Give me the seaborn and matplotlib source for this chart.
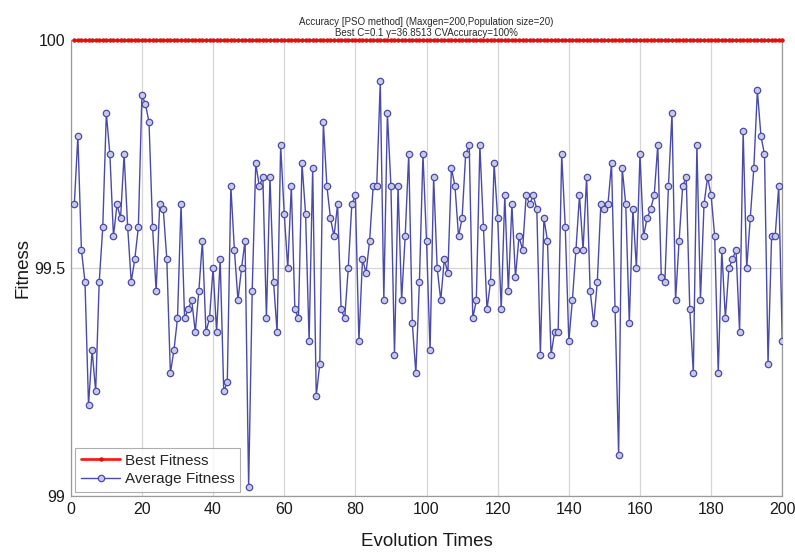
import numpy as np
import pandas as pd
import matplotlib
matplotlib.use("Agg")
import matplotlib.pyplot as plt
import seaborn as sns

# Evolution step (generation index)
generations = list(range(1, 201))

# Best fitness per generation (CV accuracy of the best particle)
best_fitness = [100.0] * 200

# Average fitness of the swarm per generation
average_fitness = [
    # 1-20
    99.64, 99.79, 99.54, 99.47, 99.20, 99.32, 99.23, 99.47, 99.59, 99.84,
    99.75, 99.57, 99.64, 99.61, 99.75, 99.59, 99.47, 99.52, 99.59, 99.88,
    # 21-40
    99.86, 99.82, 99.59, 99.45, 99.64, 99.63, 99.52, 99.27, 99.32, 99.39,
    99.64, 99.39, 99.41, 99.43, 99.36, 99.45, 99.56, 99.36, 99.39, 99.50,
    # 41-60
    99.36, 99.52, 99.23, 99.25, 99.68, 99.54, 99.43, 99.50, 99.56, 99.02,
    99.45, 99.73, 99.68, 99.70, 99.39, 99.70, 99.47, 99.36, 99.77, 99.62,
    # 61-80
    99.50, 99.68, 99.41, 99.39, 99.73, 99.62, 99.34, 99.72, 99.22, 99.29,
    99.82, 99.68, 99.61, 99.57, 99.64, 99.41, 99.39, 99.50, 99.64, 99.66,
    # 81-100
    99.34, 99.52, 99.49, 99.56, 99.68, 99.68, 99.91, 99.43, 99.84, 99.68,
    99.31, 99.68, 99.43, 99.57, 99.75, 99.38, 99.27, 99.47, 99.75, 99.56,
    # 101-120
    99.32, 99.70, 99.50, 99.43, 99.52, 99.49, 99.72, 99.68, 99.57, 99.61,
    99.75, 99.77, 99.39, 99.43, 99.77, 99.59, 99.41, 99.47, 99.73, 99.61,
    # 121-140
    99.41, 99.66, 99.45, 99.64, 99.48, 99.57, 99.54, 99.66, 99.64, 99.66,
    99.63, 99.31, 99.61, 99.56, 99.31, 99.36, 99.36, 99.75, 99.59, 99.34,
    # 141-160
    99.43, 99.54, 99.66, 99.54, 99.70, 99.45, 99.38, 99.47, 99.64, 99.63,
    99.64, 99.73, 99.41, 99.09, 99.72, 99.64, 99.38, 99.63, 99.50, 99.75,
    # 161-180
    99.57, 99.61, 99.63, 99.66, 99.77, 99.48, 99.47, 99.68, 99.84, 99.43,
    99.56, 99.68, 99.70, 99.41, 99.27, 99.77, 99.43, 99.64, 99.70, 99.66,
    # 181-200
    99.57, 99.27, 99.54, 99.39, 99.50, 99.52, 99.54, 99.36, 99.80, 99.50,
    99.61, 99.72, 99.89, 99.79, 99.75, 99.29, 99.57, 99.57, 99.68, 99.34,
]

x_ticks = [0, 20, 40, 60, 80, 100, 120, 140, 160, 180, 200]
y_ticks = [99, 99.5, 100]
y_tick_labels = ["99", "99.5", "100"]

title_text = ("Accuracy [PSO method] (Maxgen=200,Population size=20)\n"
              "Best C=0.1 γ=36.8513 CVAccuracy=100%")

df = pd.DataFrame({
    "gen": generations,
    "Best Fitness": best_fitness,
    "Average Fitness": average_fitness,
})

sns.set_theme(style="white")
plt.rcParams["font.family"] = ["Liberation Sans", "DejaVu Sans"]

fig = plt.figure(figsize=(7.95, 5.52), dpi=100)
ax = fig.add_axes([0.089, 0.101, 0.895, 0.826])

sns.lineplot(data=df, x="gen", y="Best Fitness", ax=ax, color="#ff1a1a",
             linewidth=2.0, marker="o", markersize=3.2, markeredgewidth=0,
             markerfacecolor="#e01010",
             label="Best Fitness", zorder=4, clip_on=False)
sns.lineplot(data=df, x="gen", y="Average Fitness", ax=ax, color="#4a4aaa",
             linewidth=1.0, marker="o", markersize=4.6,
             markerfacecolor="#c9c9e3", markeredgecolor="#4a4aaa",
             markeredgewidth=0.9, label="Average Fitness", zorder=3)

ax.set_xlim(0, 200)
ax.set_ylim(99, 100)
ax.set_xticks(x_ticks)
ax.set_yticks(y_ticks)
ax.set_yticklabels(y_tick_labels)
ax.tick_params(axis="both", labelsize=11.5, colors="#1a1a1a", length=3,
               direction="in", pad=4)
ax.grid(True, color="#d6d6d6", linewidth=0.9)
ax.set_axisbelow(True)
for s in ax.spines.values():
    s.set_color("#9a9a9a")
    s.set_linewidth(0.9)

ax.set_xlabel("Evolution Times", fontsize=13.5, color="#1a1a1a", labelpad=12)
ax.set_ylabel("Fitness", fontsize=13.5, color="#1a1a1a", labelpad=2)
ax.set_title(title_text, fontsize=7, color="#2a2a2a", pad=3, linespacing=1.15)

leg = ax.legend(loc="lower left", fontsize=11, frameon=True,
                fancybox=False, borderpad=0.35, handlelength=2.6,
                handletextpad=0.3, labelspacing=0.3, borderaxespad=0.3)
leg.get_frame().set_edgecolor("#9a9a9a")
leg.get_frame().set_linewidth(0.8)

fig.savefig("out.png", dpi=100, facecolor="white")
